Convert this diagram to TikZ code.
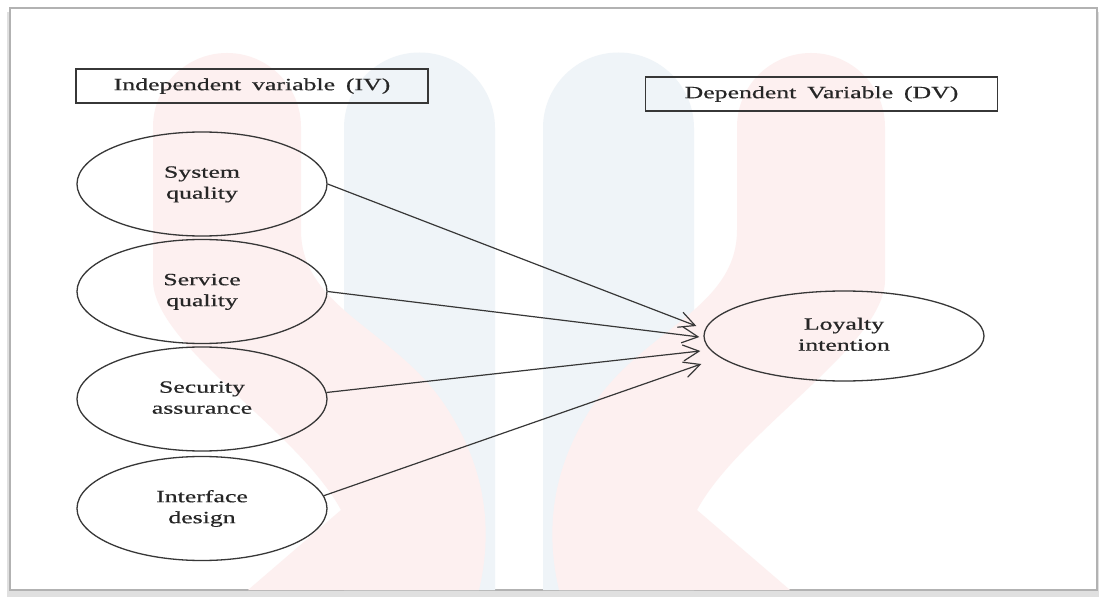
\documentclass[tikz,border=0pt]{standalone}
\usepackage{fontspec}
\setmainfont{Liberation Serif}[FakeBold=0.5]
\usetikzlibrary{shapes.geometric,arrows.meta}
\definecolor{linegray}{RGB}{55,55,55}
\definecolor{wmpink}{RGB}{253,240,240}
\definecolor{wmblue}{RGB}{239,244,248}
\newcommand{\wide}[1]{\scalebox{1.5}[1]{\spaceskip=3.6pt\begin{tabular}{@{}c@{}}#1\end{tabular}}}
\tikzset{
  varbox/.style={draw=linegray, line width=0.7pt, minimum width=176pt, minimum height=17pt, inner sep=0pt},
  construct/.style={draw=linegray, ellipse, line width=0.65pt, minimum width=125pt, minimum height=52pt, inner sep=0pt},
  link/.style={draw=linegray, line width=0.6pt, -{Straight Barb[length=8pt,width=8pt]}}
}
\begin{document}
\begin{tikzpicture}[x=0.5pt, y=-0.5pt, font=\fontsize{8.6pt}{10.5pt}\selectfont, text=black!85]
  \useasboundingbox (0,0) rectangle (1099,599);
  % page with shadow
  \fill[black!12] (7,12) rectangle (1099,597);
  \filldraw[fill=white, draw=black!30, line width=0.6pt] (10,8) rectangle (1097,590);
  % watermark
  \fill[wmblue] (344,590) -- (344,128) arc[start angle=180, end angle=360, radius=75.5] -- (495,590) -- cycle;
  \fill[wmblue] (543,590) -- (543,128) arc[start angle=180, end angle=360, radius=75.5] -- (694,590) -- cycle;
  \foreach \sx/\dx in {1/0,-1/1038}{
    \begin{scope}[shift={(\dx,0)}, xscale=\sx]
      \fill[wmpink] (559,590) .. controls (545,530) and (552,470) .. (590,410)
        .. controls (640,330) and (737,310) .. (737,230) -- (737,127)
        arc[start angle=180, end angle=360, radius=74] -- (885,280)
        .. controls (885,345) and (740,430) .. (697,510) -- (790,590) -- cycle;
    \end{scope}
  }

  % headings
  \node[varbox] (iv) at (252,86) {\wide{Independent variable (IV)}};
  \node[varbox] (dv) at (821.5,94) {\wide{Dependent Variable (DV)}};

  % constructs
  \node[construct] (sys) at (202,184) {\wide{System\\quality}};
  \node[construct] (ser) at (202,291.5) {\wide{Service\\quality}};
  \node[construct] (sec) at (202,399) {\wide{Security\\assurance}};
  \node[construct] (int) at (202,508.5) {\wide{Interface\\design}};
  \node[construct, minimum width=140pt, minimum height=45pt] (loy) at (844,336) {\wide{Loyalty\\intention}};

  % arrow ends
  \coordinate (t1) at ([shift={(-7,-10)}]loy.west);
  \coordinate (t2) at ([shift={(-4,1)}]loy.west);
  \coordinate (t3) at ([shift={(-3,15)}]loy.west);
  \coordinate (t4) at ([shift={(-2,28)}]loy.west);

  \draw[link] (sys.east) -- (t1);
  \draw[link] (ser.east) -- (t2);
  \draw[link] (sec.3) -- (t3);
  \draw[link] (int.6) -- (t4);
\end{tikzpicture}
\end{document}
